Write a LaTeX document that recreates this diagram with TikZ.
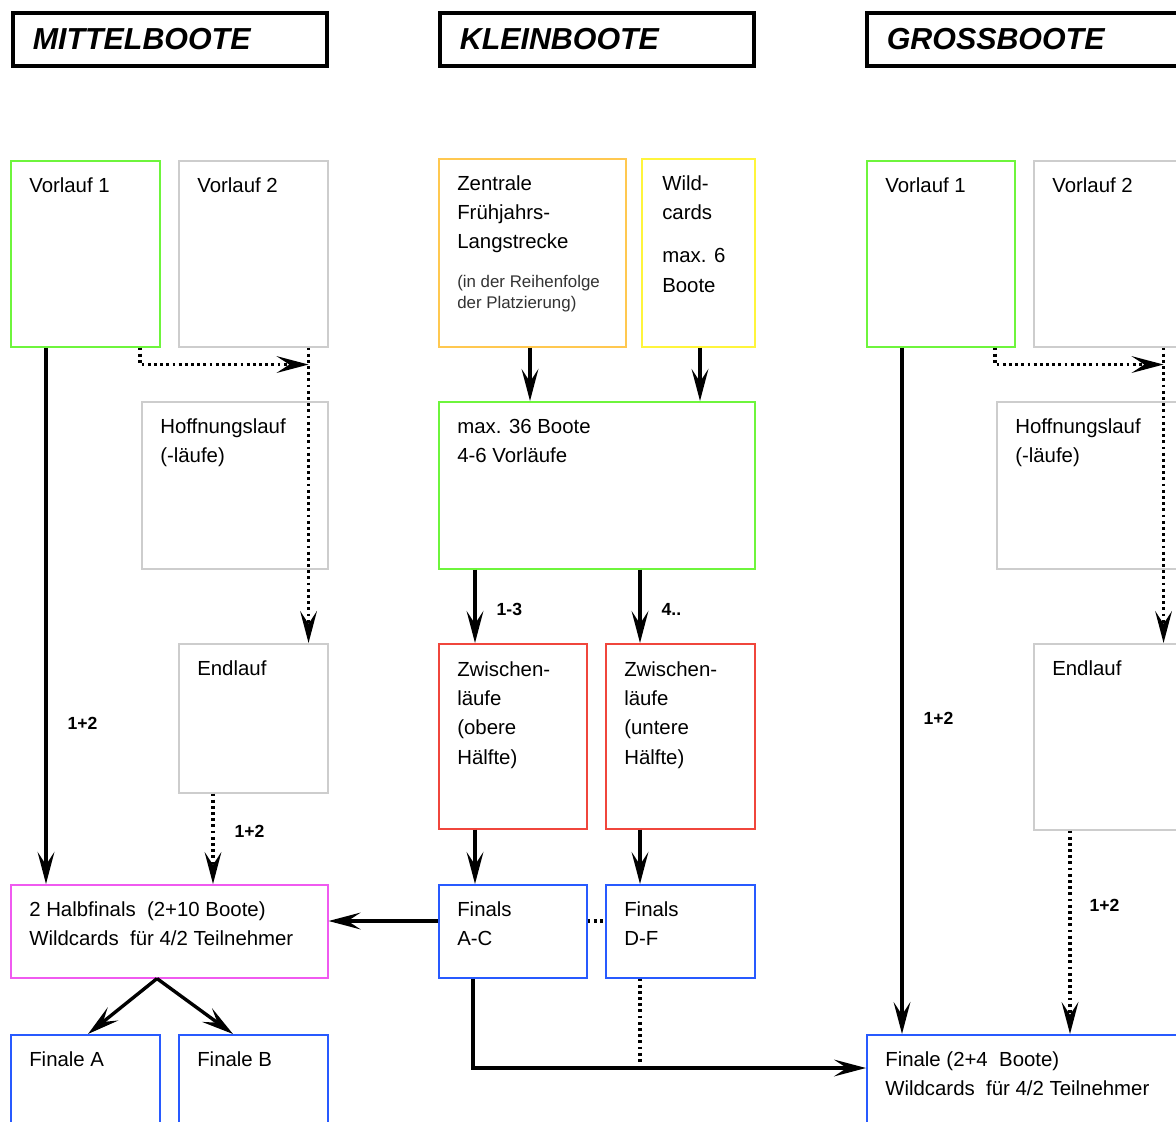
\documentclass[tikz,border=0pt]{standalone}
\usepackage{fontspec}
\setmainfont{Liberation Sans}
\usepackage[dvipsnames]{xcolor}
\usetikzlibrary{arrows.meta,positioning}

\definecolor{boxgreen}{RGB}{110,245,60}
\definecolor{boxgray}{RGB}{205,205,205}
\definecolor{boxorange}{RGB}{255,200,80}
\definecolor{boxyellow}{RGB}{255,245,60}
\definecolor{boxred}{RGB}{240,70,60}
\definecolor{boxblue}{RGB}{40,90,255}
\definecolor{boxmagenta}{RGB}{240,90,240}

\begin{document}
\begin{tikzpicture}[x=.025cm, y=-.025cm,
    box/.style={draw, anchor=north west, inner sep=0pt, line width=1.1pt},
    sz/.style 2 args={minimum width=#1*.025cm, minimum height=#2*.025cm},
    hdr/.style={draw, line width=2.6pt, anchor=north west, inner sep=0pt, inner xsep=.5cm, minimum height=1.33cm, text width=6.85cm, align=left, font=\fontsize{21.6}{26}\selectfont\bfseries\itshape},
    txt/.style={anchor=north west, inner sep=0pt, align=left, font=\fontsize{14.5}{20.9}\selectfont},
    smalltxt/.style={anchor=north west, inner sep=0pt, align=left, text=black!80, font=\fontsize{12}{14.9}\selectfont},
    lbl/.style={inner sep=0pt, font=\fontsize{12.5}{14}\selectfont\bfseries},
    arr/.style={line width=2.4pt, -{Stealth[length=.8cm, width=.42cm, inset=.32cm]}},
    dotln/.style={line width=2.2pt, dash pattern=on 2pt off 2.4pt}]

    % page frame, cut on the right and at the bottom
    \useasboundingbox (0,0) rectangle (1176,1122);
    \fill[white] (0,0) rectangle (1176,1122);
    \clip (0,0) rectangle (1176,1122);

    % draw headers
    \node[hdr] (mhead) at (11,11) {MITTELBOOTE};
    \node[hdr] (khead) at (438,11) {KLEINBOOTE};
    \node[hdr] (ghead) at (865,11) {GROSSBOOTE};

    % Mittelboote boxes
    \node[box, draw=boxgreen, sz={149}{186}] (mvl1) at (10,160) {};
    \node[txt] (mvl1t) at ([shift={(19,17)}]mvl1.north west) {Vorlauf 1};
    \node[box, draw=boxgray, sz={149}{186}] (mvl2) at (178,160) {};
    \node[txt] (mvl2t) at ([shift={(19,17)}]mvl2.north west) {Vorlauf 2};
    \node[box, draw=boxgray, sz={186}{167}] (mhl) at (141,401) {};
    \node[txt] (mhlt) at ([shift={(19,17)}]mhl.north west) {Hoffnungslauf\\(-läufe)};
    \node[box, draw=boxgray, sz={149}{149}] (mel) at (178,643) {};
    \node[txt] (melt) at ([shift={(19,17)}]mel.north west) {Endlauf};
    \node[box, draw=boxmagenta, sz={317}{93}] (mhf) at (10,884) {};
    \node[txt] (mhft) at ([shift={(19,17)}]mhf.north west) {2 Halbfinals\ \ (2+10 Boote)\\Wildcards\ \ für 4/2 Teilnehmer};
    \node[box, draw=boxblue, sz={149}{110}] (mfa) at (10,1034) {};
    \node[txt] (mfat) at ([shift={(19,17)}]mfa.north west) {Finale A};
    \node[box, draw=boxblue, sz={149}{110}] (mfb) at (178,1034) {};
    \node[txt] (mfbt) at ([shift={(19,17)}]mfb.north west) {Finale B};

    % Kleinboote boxes
    \node[box, draw=boxorange, sz={187}{188}] (kzf) at (438,158) {};
    \node[txt] (kzft) at ([shift={(19,17)}]kzf.north west) {Zentrale\\Frühjahrs-\\Langstrecke};
    \node[smalltxt] (kzfs) at ([shift={(19,117)}]kzf.north west) {(in der Reihenfolge\\der Platzierung)};
    \node[box, draw=boxyellow, sz={113}{188}] (kwc) at (641,158) {};
    \node[txt] (kwct) at ([shift={(21,17)}]kwc.north west) {Wild-\\cards\\[10pt]max. 6\\Boote};
    \node[box, draw=boxgreen, sz={316}{167}] (kmx) at (438,401) {};
    \node[txt] (kmxt) at ([shift={(19,18)}]kmx.north west) {max. 36 Boote\\4-6 Vorläufe};
    \node[box, draw=boxred, sz={148}{185}] (kzo) at (438,643) {};
    \node[txt] (kzot) at ([shift={(19,18)}]kzo.north west) {Zwischen-\\läufe\\(obere\\Hälfte)};
    \node[box, draw=boxred, sz={149}{185}] (kzu) at (605,643) {};
    \node[txt] (kzut) at ([shift={(19,18)}]kzu.north west) {Zwischen-\\läufe\\(untere\\Hälfte)};
    \node[box, draw=boxblue, sz={148}{93}] (kfac) at (438,884) {};
    \node[txt] (kfact) at ([shift={(19,17)}]kfac.north west) {Finals\\A-C};
    \node[box, draw=boxblue, sz={149}{93}] (kfdf) at (605,884) {};
    \node[txt] (kfdft) at ([shift={(19,17)}]kfdf.north west) {Finals\\D-F};

    % Grossboote boxes
    \node[box, draw=boxgreen, sz={148}{186}] (gvl1) at (866,160) {};
    \node[txt] (gvl1t) at ([shift={(19,17)}]gvl1.north west) {Vorlauf 1};
    \node[box, draw=boxgray, sz={149}{186}] (gvl2) at (1033,160) {};
    \node[txt] (gvl2t) at ([shift={(19,17)}]gvl2.north west) {Vorlauf 2};
    \node[box, draw=boxgray, sz={186}{167}] (ghl) at (996,401) {};
    \node[txt] (ghlt) at ([shift={(19,17)}]ghl.north west) {Hoffnungslauf\\(-läufe)};
    \node[box, draw=boxgray, sz={149}{186}] (gel) at (1033,643) {};
    \node[txt] (gelt) at ([shift={(19,17)}]gel.north west) {Endlauf};
    \node[box, draw=boxblue, sz={317}{110}] (gfin) at (866,1034) {};
    \node[txt] (gfint) at ([shift={(19,17)}]gfin.north west) {Finale (2+4\ \ Boote)\\Wildcards\ \ für 4/2 Teilnehmer};

    % Mittelboote connectors
    \draw[arr] ([shift={(36,0)}]mvl1.south west) -- ([shift={(36,0)}]mhf.north west)
        node[lbl, pos=.7, right=.5cm] (ml1) {1+2};
    \draw[dotln, -{Stealth[length=.8cm, width=.42cm, inset=.32cm]}] ([shift={(130,0)}]mvl1.south west) |- ([shift={(-20,17)}]mvl2.south east);
    \draw[dotln, -{Stealth[length=.8cm, width=.42cm, inset=.32cm]}] ([shift={(-20,0)}]mvl2.south east) -- ([shift={(-20,0)}]mel.north east);
    \draw[dotln, -{Stealth[length=.8cm, width=.42cm, inset=.32cm]}] ([shift={(35,0)}]mel.south west) -- ([shift={(203,0)}]mhf.north west)
        node[lbl, pos=.42, right=.5cm] (ml2) {1+2};
    \draw[arr] ([shift={(147,0)}]mhf.south west) -- ([shift={(78,0)}]mfa.north west);
    \draw[arr] ([shift={(147,0)}]mhf.south west) -- ([shift={(55,0)}]mfb.north west);

    % Kleinboote connectors
    \draw[arr] ([shift={(92,0)}]kzf.south west) -- ([shift={(92,0)}]kmx.north west);
    \draw[arr] ([shift={(59,0)}]kwc.south west) -- ([shift={(262,0)}]kmx.north west);
    \draw[arr] ([shift={(37,0)}]kmx.south west) -- ([shift={(37,0)}]kzo.north west)
        node[lbl, pos=.55, right=.5cm] (kl1) {1-3};
    \draw[arr] ([shift={(202,0)}]kmx.south west) -- ([shift={(35,0)}]kzu.north west)
        node[lbl, pos=.55, right=.5cm] (kl2) {4..};
    \draw[arr] ([shift={(37,0)}]kzo.south west) -- ([shift={(37,0)}]kfac.north west);
    \draw[arr] ([shift={(35,0)}]kzu.south west) -- ([shift={(35,0)}]kfdf.north west);
    \draw[arr] ([shift={(0,37)}]kfac.north west) -- ([shift={(0,37)}]mhf.north east);
    \draw[dotln] ([shift={(0,37)}]kfac.north east) -- ([shift={(0,37)}]kfdf.north west);
    \draw[arr] ([shift={(35,0)}]kfac.south west) |- ([shift={(0,34)}]gfin.north west);
    \draw[dotln] ([shift={(35,0)}]kfdf.south west) -- ++(0,85);

    % Grossboote connectors
    \draw[arr] ([shift={(36,0)}]gvl1.south west) -- ([shift={(36,0)}]gfin.north west)
        node[lbl, pos=.54, right=.5cm] (gl1) {1+2};
    \draw[dotln, -{Stealth[length=.8cm, width=.42cm, inset=.32cm]}] ([shift={(129,0)}]gvl1.south west) |- ([shift={(-20,17)}]gvl2.south east);
    \draw[dotln, -{Stealth[length=.8cm, width=.42cm, inset=.32cm]}] ([shift={(-20,0)}]gvl2.south east) -- ([shift={(-20,0)}]gel.north east);
    \draw[dotln, -{Stealth[length=.8cm, width=.42cm, inset=.32cm]}] ([shift={(37,0)}]gel.south west) -- ([shift={(204,0)}]gfin.north west)
        node[lbl, pos=.37, right=.45cm] (gl2) {1+2};
\end{tikzpicture}
\end{document}
